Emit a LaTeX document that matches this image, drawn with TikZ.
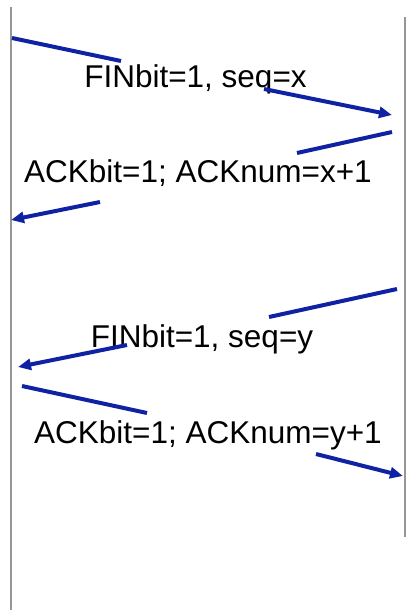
\documentclass[tikz,border=0pt]{standalone}
\usepackage{fontspec}
\setmainfont{Liberation Sans}
\usetikzlibrary{arrows.meta}
\definecolor{msgblue}{RGB}{16,34,164}
\definecolor{lifegray}{RGB}{150,150,150}
\tikzset{
  lifeline/.style={draw=lifegray, line width=1.8pt},
  msg/.style={draw=msgblue, line width=4pt},
  msgarrow/.style={msg, -{Triangle[length=13pt,width=11pt]}},
  msglabel/.style={inner sep=0pt, anchor=base, font=\fontsize{31.5}{36}\selectfont}
}
\begin{document}
\begin{tikzpicture}[x=1pt,y=-1pt]
\useasboundingbox (0,0) rectangle (416,610);
% lifelines
\coordinate (lt) at (11,7);
\coordinate (lb) at (11,610);
\coordinate (rt) at (405,17);
\coordinate (rb) at (405,537);
\draw[lifeline] (lt) -- (lb);
\draw[lifeline] (rt) -- (rb);
% labels
\node[msglabel] (m1) at (195.5,87) {FINbit=1, seq=x};
\node[msglabel] (m2) at (198,182) {ACKbit=1; ACKnum=x+1};
\node[msglabel] (m3) at (202,347) {FINbit=1, seq=y};
\node[msglabel] (m4) at (208,443) {ACKbit=1; ACKnum=y+1};
% message 1
\coordinate (a1s) at (12,38);
\coordinate (a1m) at (121,61);
\coordinate (a1n) at (264,89);
\coordinate (a1e) at (392,115);
\draw[msg] (a1s) -- (a1m);
\draw[msgarrow] (a1n) -- (a1e);
% message 2
\coordinate (a2s) at (392,132);
\coordinate (a2m) at (297,153);
\coordinate (a2n) at (100,202);
\coordinate (a2e) at (11,220);
\draw[msg] (a2s) -- (a2m);
\draw[msgarrow] (a2n) -- (a2e);
% message 3
\coordinate (a3s) at (397,289);
\coordinate (a3m) at (269,317);
\coordinate (a3n) at (127,345);
\coordinate (a3e) at (18,367);
\draw[msg] (a3s) -- (a3m);
\draw[msgarrow] (a3n) -- (a3e);
% message 4
\coordinate (a4s) at (22,386);
\coordinate (a4m) at (147,413);
\coordinate (a4n) at (316,454);
\coordinate (a4e) at (403,476);
\draw[msg] (a4s) -- (a4m);
\draw[msgarrow] (a4n) -- (a4e);
\end{tikzpicture}
\end{document}
